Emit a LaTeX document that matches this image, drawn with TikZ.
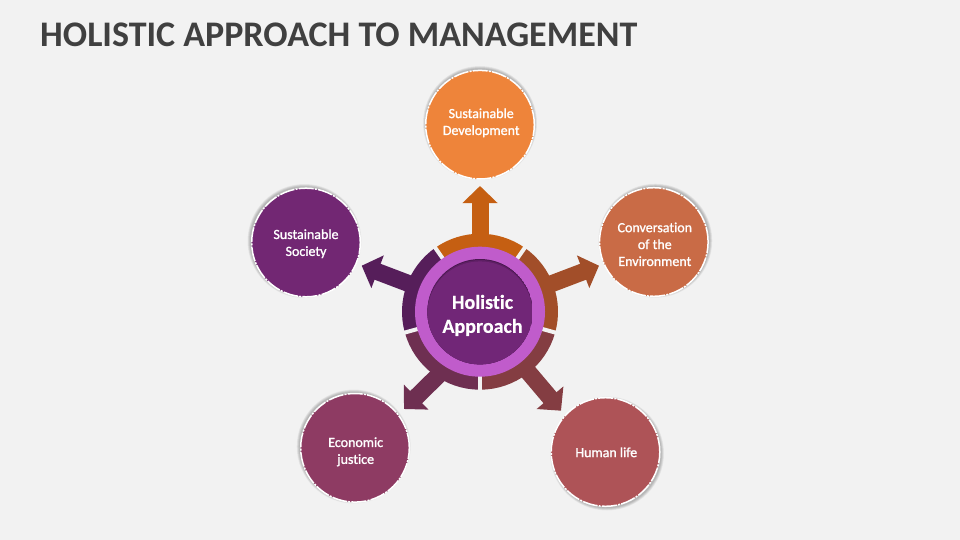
\documentclass[tikz,border=0pt]{standalone}
\usepackage{fontspec}
\setmainfont[Ligatures=NoCommon]{Carlito}
\newfontfamily\lblfont[FakeBold=1.2,Ligatures=NoCommon]{Carlito}
\newfontfamily\corefont[BoldFont=Carlito Bold,BoldFeatures={FakeBold=0.35},Ligatures=NoCommon]{Carlito}
\usetikzlibrary{arrows.meta}
\definecolor{bgc}{HTML}{F2F2F2}
\definecolor{ctitle}{HTML}{404040}
\definecolor{cTop}{HTML}{C55F12}
\definecolor{cRight}{HTML}{A24E29}
\definecolor{cLR}{HTML}{843D42}
\definecolor{cLL}{HTML}{6E2F51}
\definecolor{cLeft}{HTML}{561E5A}
\definecolor{cPink}{HTML}{C05CCB}
\definecolor{cCore}{HTML}{712677}
\definecolor{cCoreDk}{HTML}{4A1850}
\definecolor{cCoreMd}{HTML}{5E1F64}
\definecolor{bTop}{HTML}{EE843A}
\definecolor{bRight}{HTML}{C96B46}
\definecolor{bLR}{HTML}{AE5357}
\definecolor{bLL}{HTML}{8E3B63}
\definecolor{bLeft}{HTML}{722773}
\tikzset{
  x=1pt,y=-1pt,
  bubble/.style={circle,inner sep=0pt,minimum size=108.6pt,
    draw=white,line width=1.5pt,dash pattern=on 15pt off 1.2pt on 2pt off 1.2pt},
  bubbletext/.style={inner sep=0pt,text=white,align=center,
    font=\lblfont\fontsize{14}{16.9}\selectfont},
  blockarrow/.style={line width=17pt,shorten <=-8pt,
    -{Triangle[length=17pt,width=34pt]}},
  segment/.style={line width=18pt},
  gapline/.style={bgc,line width=4pt},
  haze/.style={fill=black,opacity=.045}
}
\newcommand{\softshade}[2]{%
  \foreach \rr in {54.5,55,55.5,56,56.5,57}{\fill[haze] (#1,#2) circle[radius=\rr pt];}}
\begin{document}
\begin{tikzpicture}
\useasboundingbox (0,0) rectangle (960,540);
\fill[bgc] (0,0) rectangle (960,540);
\node[anchor=west,inner sep=0pt,text=ctitle,font=\fontsize{36}{40}\selectfont\bfseries] (title) at (40,34.6) {HOLISTIC APPROACH TO MANAGEMENT};

\coordinate (hub) at (480,311.7);
\coordinate (sTop) at (480,234);
\coordinate (sRight) at (552.7,283.3);
\coordinate (sLR) at (529.7,373.7);
\coordinate (sLL) at (436.3,377.3);
\coordinate (sLeft) at (408,283.3);
\coordinate (tTop) at (480,186);
\coordinate (tRight) at (599,265.7);
\coordinate (tLR) at (561,410.7);
\coordinate (tLL) at (404,409);
\coordinate (tLeft) at (361.7,265.7);

\begin{scope}[shift={(hub)},y=1pt]
  \draw[segment,cTop] (125:69) arc[start angle=125,end angle=55,radius=69pt];
  \draw[segment,cRight] (55:69) arc[start angle=55,end angle=-15.5,radius=69pt];
  \draw[segment,cLR] (-15.5:69) arc[start angle=-15.5,end angle=-90,radius=69pt];
  \draw[segment,cLL] (-90:69) arc[start angle=-90,end angle=-164.5,radius=69pt];
  \draw[segment,cLeft] (-164.5:69) arc[start angle=-164.5,end angle=-235,radius=69pt];
  \foreach \a in {125,55,-15.5,-90,-164.5}{\draw[gapline] (\a:60) -- (\a:84);}
\end{scope}

\draw[blockarrow,cTop] (sTop) -- (tTop);
\draw[blockarrow,cRight] (sRight) -- (tRight);
\draw[blockarrow,cLR] (sLR) -- (tLR);
\draw[blockarrow,cLL] (sLL) -- (tLL);
\draw[blockarrow,cLeft] (sLeft) -- (tLeft);

\fill[cPink] (hub) circle[radius=65pt];
\begin{scope}
  \clip (hub) circle[radius=52.7pt];
  \fill[cCoreDk] (hub) circle[radius=52.7pt];
  \fill[cCoreMd] ([yshift=-1pt]hub) circle[radius=52.7pt];
  \fill[cCore] ([yshift=-2.4pt]hub) circle[radius=52.7pt];
\end{scope}
\node[inner sep=0pt,text=white,align=center,font=\corefont\fontsize{20}{24}\selectfont\bfseries] (core) at (482.5,315.4) {Holistic\\Approach};

\softshade{480}{123}
\softshade{304.5}{241}
\softshade{655.3}{240.7}
\softshade{353.7}{446.5}
\softshade{607}{453.5}
\node[bubble,fill=bTop] (nTop) at (480,124.7) {};
\node[bubble,fill=bLeft] (nLeft) at (306,242.5) {};
\node[bubble,fill=bRight] (nRight) at (653.8,242) {};
\node[bubble,fill=bLL] (nLL) at (355,447.8) {};
\node[bubble,fill=bLR] (nLR) at (605.5,452) {};
\node[bubbletext] (lTop) at (481.2,122.8) {Sustainable\\Development};
\node[bubbletext] (lLeft) at (306,243.7) {Sustainable\\Society};
\node[bubbletext] (lRight) at (654.8,244.3) {Conversation\\of the\\Environment};
\node[bubbletext] (lLL) at (355.7,451.8) {Economic\\justice};
\node[bubbletext] (lLR) at (606.3,452.3) {Human life};
\end{tikzpicture}
\end{document}
